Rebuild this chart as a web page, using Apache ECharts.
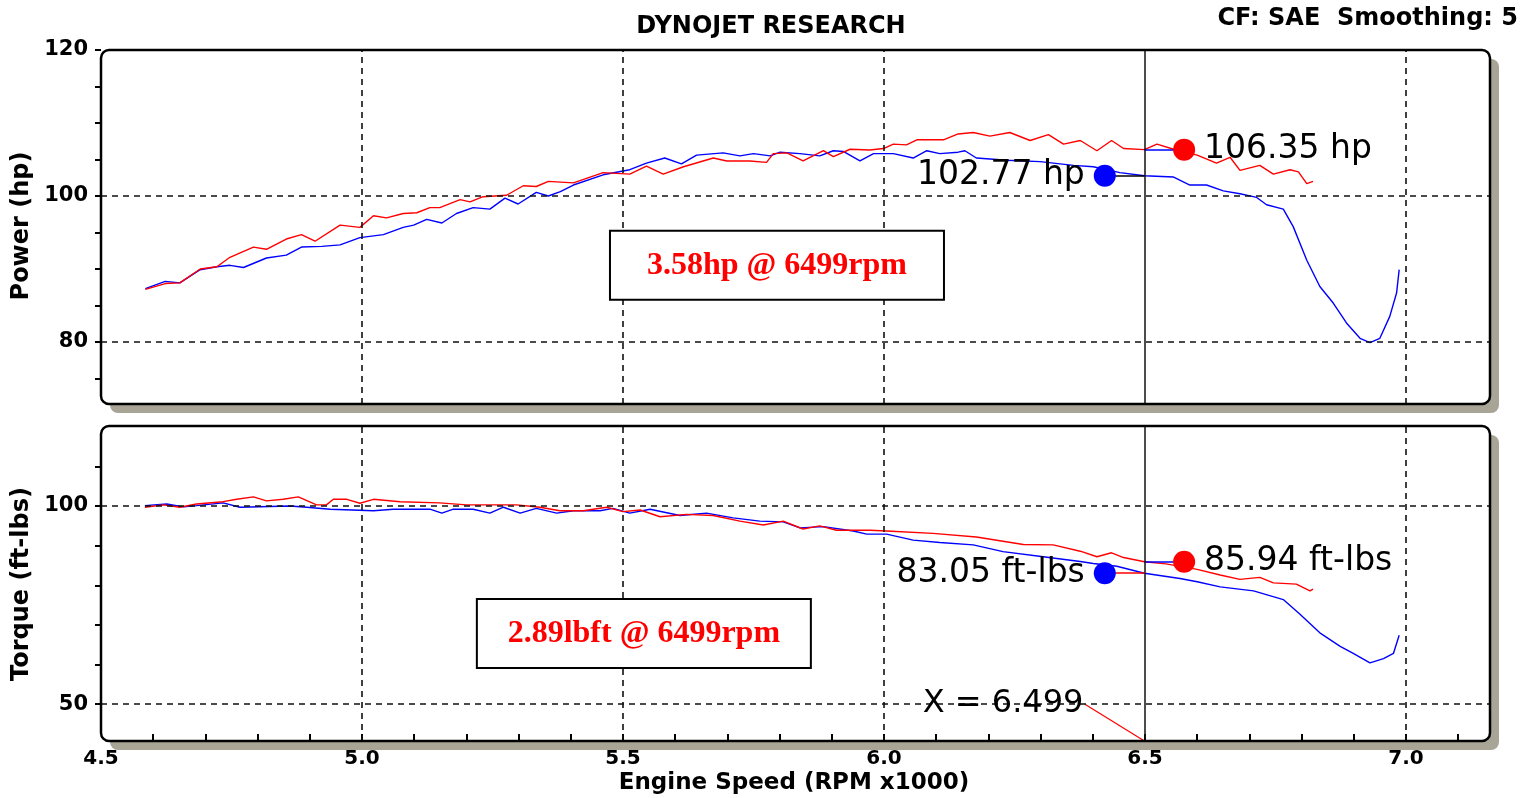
<!DOCTYPE html>
<html><head><meta charset="utf-8">
<script src="https://cdn.jsdelivr.net/npm/echarts@6/dist/echarts.min.js"></script>
<style>html,body{margin:0;padding:0;background:#fff}#c{width:1536px;height:798px}</style>
</head><body><div id="c"></div><script>
// ---------- data ----------
const xLabelVals = [4.5, 5.0, 5.5, 6.0, 6.5, 7.0];
const xTickVals = [4.6,4.7,4.8,4.9,5.0,5.1,5.2,5.3,5.4,5.5,5.6,5.7,5.8,5.9,6.0,6.1,6.2,6.3,6.4,6.5,6.6,6.7,6.8,6.9,7.0,7.1];
const xGridVals = [5.0, 5.5, 6.0, 7.0];
const pwrLabelVals = [80, 100, 120];
const pwrTickVals = [75, 80, 85, 90, 95, 100, 105, 110, 115, 120];
const pwrGridVals = [80, 100];
const trqLabelVals = [50, 100];
const trqTickVals = [50, 60, 70, 80, 90, 100, 110];
const trqGridVals = [50, 100];
const cursorRpm = 6.499;

// Run A (red) power
const pwrA_rpm = [4.585,4.623,4.651,4.690,4.722,4.747,4.792,4.817,4.855,4.884,4.910,4.958,4.996,5.022,5.047,5.079,5.105,5.130,5.149,5.188,5.207,5.232,5.277,5.309,5.334,5.357,5.405,5.462,5.513,5.545,5.577,5.616,5.673,5.699,5.743,5.775,5.788,5.814,5.845,5.884,5.903,5.935,5.973,5.999,6.018,6.043,6.063,6.114,6.142,6.171,6.203,6.241,6.280,6.315,6.344,6.376,6.408,6.436,6.459,6.499,6.523,6.555,6.600,6.637,6.663,6.682,6.720,6.746,6.778,6.794,6.810,6.822];
const pwrA_hp  = [87.2,88.0,88.1,90.0,90.3,91.6,93.0,92.7,94.1,94.7,93.8,96.0,95.7,97.3,97.0,97.6,97.7,98.4,98.4,99.5,99.2,99.9,100.1,101.4,101.3,102.0,101.8,103.2,103.0,104.1,103.0,104.0,105.2,104.8,104.8,104.6,105.8,105.9,104.8,106.2,105.4,106.4,106.3,106.5,107.1,107.0,107.7,107.7,108.5,108.7,108.2,108.7,107.6,108.4,107.1,107.6,106.2,107.6,106.5,106.35,107.1,106.4,105.6,104.5,105.3,103.5,104.2,103.0,103.6,103.3,101.7,102.0];
// Run B (blue) power
const pwrB_rpm = [4.585,4.623,4.651,4.690,4.722,4.747,4.773,4.817,4.855,4.884,4.923,4.958,4.996,5.041,5.079,5.099,5.124,5.153,5.181,5.213,5.245,5.274,5.299,5.334,5.357,5.380,5.405,5.462,5.513,5.545,5.580,5.612,5.641,5.692,5.724,5.750,5.782,5.801,5.839,5.877,5.903,5.922,5.954,5.980,6.018,6.056,6.082,6.107,6.142,6.155,6.177,6.235,6.299,6.363,6.401,6.452,6.499,6.555,6.586,6.618,6.650,6.682,6.714,6.733,6.765,6.784,6.810,6.835,6.861,6.886,6.912,6.931,6.950,6.969,6.982,6.987];
const pwrB_hp  = [87.3,88.3,88.1,89.9,90.3,90.5,90.2,91.5,91.9,93.0,93.1,93.3,94.3,94.7,95.7,96.0,96.8,96.3,97.6,98.4,98.2,99.7,98.9,100.5,100.0,100.6,101.5,102.9,103.6,104.5,105.2,104.4,105.6,105.9,105.5,105.8,105.5,106.0,105.8,105.5,106.2,106.1,104.8,105.8,105.8,105.2,106.2,105.8,106.0,106.2,105.2,104.9,104.7,104.2,104.0,103.2,102.77,102.6,101.5,101.5,100.7,100.3,99.8,98.8,98.2,95.8,91.2,87.6,85.3,82.6,80.5,79.9,80.5,83.5,86.7,89.9];
// Run A (red) torque
const trqA_rpm = [4.584,4.620,4.651,4.683,4.734,4.760,4.792,4.817,4.849,4.878,4.913,4.932,4.945,4.971,4.996,5.022,5.073,5.149,5.200,5.257,5.296,5.341,5.379,5.424,5.469,5.500,5.533,5.571,5.622,5.673,5.724,5.769,5.807,5.845,5.877,5.909,5.973,6.005,6.094,6.177,6.267,6.324,6.376,6.408,6.436,6.459,6.499,6.540,6.600,6.644,6.682,6.720,6.746,6.790,6.816,6.822];
const trqA_val = [99.7,100.3,99.7,100.5,101.1,101.7,102.3,101.3,101.7,102.3,100.3,100.3,101.7,101.7,100.7,101.7,101.1,100.8,100.3,100.3,100.3,99.7,98.8,98.8,99.7,98.6,99.0,97.3,97.9,97.6,96.2,95.2,96.2,94.2,95.0,93.9,93.9,93.7,93.1,92.2,90.3,90.2,88.6,87.2,88.2,87.0,85.94,85.4,84.0,82.6,81.5,82.0,80.6,80.3,78.6,79.0];
// Run B (blue) torque
const trqB_rpm = [4.584,4.626,4.658,4.683,4.734,4.766,4.862,4.894,4.939,5.022,5.060,5.130,5.153,5.175,5.213,5.245,5.271,5.303,5.334,5.373,5.405,5.456,5.481,5.513,5.552,5.609,5.660,5.711,5.762,5.807,5.839,5.884,5.941,5.967,6.005,6.056,6.107,6.171,6.228,6.305,6.376,6.401,6.446,6.499,6.567,6.600,6.644,6.708,6.765,6.797,6.835,6.874,6.899,6.931,6.957,6.976,6.987];
const trqB_val = [100.1,100.5,99.8,100.1,100.8,99.7,100.0,99.7,99.2,98.8,99.2,99.2,98.2,99.2,99.2,98.2,99.7,98.2,99.4,98.2,98.8,98.8,99.4,98.2,99.2,97.6,98.2,97.0,96.2,96.0,94.5,94.8,93.7,92.9,92.9,91.4,90.8,90.2,88.5,87.2,86.0,85.5,84.8,83.05,81.7,80.9,79.6,78.6,76.4,72.7,68.0,64.6,62.8,60.4,61.5,62.8,67.4];

// cursor readings and annotation anchors (data units)
const pwrAtCursor = {a: 106.35, b: 102.77};
const trqAtCursor = {a: 85.94, b: 83.05};
const dotRpmA = 6.575, dotRpmB = 6.423;
const pwrBoxAt = [5.795, 90.5];
const trqBoxAt = [5.540, 67.8];
const xLabelAnchor = [6.385, 50];
const pwrBoxText = '3.58hp @ 6499rpm';
const trqBoxText = '2.89lbft @ 6499rpm';

// ---------- layout ----------
const X_MIN = 4.5, X_MAX = 7.161;
const P_MIN = 71.5, P_MAX = 120;
const T_MIN = 40.7, T_MAX = 120.2;
const G0 = {left: 101, top: 50, width: 1389, height: 354};
const G1 = {left: 101, top: 426, width: 1389, height: 315};
const RED = '#ff0000', BLUE = '#0000ff';
const FONT = 'DejaVu Sans';

function pairs(xs, ys) { return xs.map((x, i) => [x, ys[i]]); }

const gridLineStyle = {color: '#111', type: [6, 5], width: 1.6};
function gridMarkLines(yVals) {
  return [
    ...yVals.map(v => ({yAxis: v, lineStyle: gridLineStyle})),
    ...xGridVals.map(v => ({xAxis: v, lineStyle: gridLineStyle})),
    {xAxis: cursorRpm, lineStyle: {color: '#111', type: 'solid', width: 1.5}}
  ];
}
function leader(x1, x2, y, color) {
  const ls = {color: color, type: 'solid', width: 1.5};
  return [{coord: [x1, y], lineStyle: ls}, {coord: [x2, y], lineStyle: ls}];
}
function dot(x, y, color, text, pos) {
  return {
    coord: [x, y], symbol: 'circle', symbolSize: 22,
    itemStyle: {color: color},
    label: {show: true, position: pos, distance: 9, formatter: text,
      color: '#000', fontSize: 33, fontFamily: FONT, fontWeight: 'normal'}
  };
}
function box(at, text) {
  return {
    coord: at, symbol: 'circle', symbolSize: 1,
    itemStyle: {color: 'rgba(0,0,0,0)'},
    label: {show: true, position: 'inside', formatter: text, color: RED,
      fontSize: 32, fontWeight: 'bold', fontFamily: 'Liberation Serif',
      width: 332, height: 67, lineHeight: 67, align: 'center', verticalAlign: 'middle',
      padding: 0, backgroundColor: '#fff', borderColor: '#000', borderWidth: 2}
  };
}

const axisLabelBase = {color: '#000', fontWeight: 'bold', fontFamily: FONT};

function frame(g) {
  return [
    {type: 'rect', z: -3, silent: true,
      shape: {x: g.left + 9, y: g.top + 9, width: g.width, height: g.height, r: 8},
      style: {fill: '#a8a596'}},
    {type: 'rect', z: -2, silent: true,
      shape: {x: g.left, y: g.top, width: g.width, height: g.height, r: 8},
      style: {fill: '#fff'}},
    {type: 'rect', z: 50, silent: true,
      shape: {x: g.left, y: g.top, width: g.width, height: g.height, r: 8},
      style: {fill: 'none', stroke: '#000', lineWidth: 2.5}}
  ];
}
function txt(x, y, text, size, opts) {
  return Object.assign({type: 'text', x: x, y: y, z: 60, silent: true,
    style: Object.assign({text: text, font: 'bold ' + size + 'px "' + FONT + '"', fill: '#000',
      textAlign: 'center', textVerticalAlign: 'middle'}, (opts && opts.style) || {})},
    (opts && opts.el) || {});
}

const option = {
  animation: false,
  backgroundColor: '#fff',
  grid: [
    {left: G0.left, top: G0.top, width: G0.width, height: G0.height, containLabel: false},
    {left: G1.left, top: G1.top, width: G1.width, height: G1.height, containLabel: false}
  ],
  xAxis: [
    {gridIndex: 0, type: 'value', min: X_MIN, max: X_MAX,
      axisLine: {show: false}, axisTick: {show: false}, axisLabel: {show: false}, splitLine: {show: false}},
    {gridIndex: 1, type: 'value', min: X_MIN, max: X_MAX,
      axisLine: {show: false},
      axisTick: {show: true, inside: true, length: 7, lineStyle: {color: '#000', width: 2}, customValues: xTickVals},
      axisLabel: Object.assign({customValues: xLabelVals, formatter: v => v.toFixed(1), fontSize: 20, margin: 8}, axisLabelBase),
      splitLine: {show: false}}
  ],
  yAxis: [
    {gridIndex: 0, type: 'value', min: P_MIN, max: P_MAX,
      axisLine: {show: false},
      axisTick: {show: true, length: 6, lineStyle: {color: '#000', width: 2}, customValues: pwrTickVals},
      axisLabel: Object.assign({customValues: pwrLabelVals, fontSize: 21, margin: 13}, axisLabelBase),
      splitLine: {show: false}},
    {gridIndex: 1, type: 'value', min: T_MIN, max: T_MAX,
      axisLine: {show: false},
      axisTick: {show: true, length: 6, lineStyle: {color: '#000', width: 2}, customValues: trqTickVals},
      axisLabel: Object.assign({customValues: trqLabelVals, fontSize: 21, margin: 13}, axisLabelBase),
      splitLine: {show: false}}
  ],
  series: [
    {type: 'line', xAxisIndex: 0, yAxisIndex: 0, data: pairs(pwrA_rpm, pwrA_hp), symbol: 'none',
      lineStyle: {color: RED, width: 1.4}, itemStyle: {color: RED}, silent: true, z: 3,
      markLine: {silent: true, symbol: ['none', 'none'], label: {show: false},
        data: [leader(cursorRpm, dotRpmA, pwrAtCursor.a, BLUE)]},
      markPoint: {silent: true, data: [dot(dotRpmA, pwrAtCursor.a, RED, pwrAtCursor.a.toFixed(2) + ' hp', 'right')]}},
    {type: 'line', xAxisIndex: 0, yAxisIndex: 0, data: pairs(pwrB_rpm, pwrB_hp), symbol: 'none',
      lineStyle: {color: BLUE, width: 1.4}, itemStyle: {color: BLUE}, silent: true, z: 2,
      markLine: {silent: true, symbol: ['none', 'none'], label: {show: false},
        data: [...gridMarkLines(pwrGridVals), leader(dotRpmB, cursorRpm, pwrAtCursor.b, '#000')]},
      markPoint: {silent: true, data: [
        box(pwrBoxAt, pwrBoxText),
        dot(dotRpmB, pwrAtCursor.b, BLUE, pwrAtCursor.b.toFixed(2) + ' hp', 'left')]}},
    {type: 'line', xAxisIndex: 1, yAxisIndex: 1, data: pairs(trqA_rpm, trqA_val), symbol: 'none',
      lineStyle: {color: RED, width: 1.4}, itemStyle: {color: RED}, silent: true, z: 3,
      markLine: {silent: true, symbol: ['none', 'none'], label: {show: false},
        data: [leader(cursorRpm, dotRpmA, trqAtCursor.a, BLUE),
          [{coord: xLabelAnchor, lineStyle: {color: RED, width: 1.2, type: 'solid'}},
           {coord: [cursorRpm, T_MIN], lineStyle: {color: RED, width: 1.2, type: 'solid'}}]]},
      markPoint: {silent: true, data: [dot(dotRpmA, trqAtCursor.a, RED, trqAtCursor.a.toFixed(2) + ' ft-lbs', 'right')]}},
    {type: 'line', xAxisIndex: 1, yAxisIndex: 1, data: pairs(trqB_rpm, trqB_val), symbol: 'none',
      lineStyle: {color: BLUE, width: 1.4}, itemStyle: {color: BLUE}, silent: true, z: 2,
      markLine: {silent: true, symbol: ['none', 'none'], label: {show: false},
        data: [...gridMarkLines(trqGridVals), leader(dotRpmB, cursorRpm, trqAtCursor.b, RED)]},
      markPoint: {silent: true, data: [
        box(trqBoxAt, trqBoxText),
        dot(dotRpmB, trqAtCursor.b, BLUE, trqAtCursor.b.toFixed(2) + ' ft-lbs', 'left'),
        {coord: xLabelAnchor, symbol: 'circle', symbolSize: 1, itemStyle: {color: 'rgba(0,0,0,0)'},
          label: {show: true, position: 'left', distance: 1, formatter: 'X = ' + cursorRpm.toFixed(3),
            color: '#000', fontSize: 32, fontFamily: FONT}}]}}
  ],
  graphic: [
    ...frame(G0), ...frame(G1),
    txt(771, 27, 'DYNOJET RESEARCH', 24),
    txt(1518, 19, 'CF: SAE  Smoothing: 5', 24, {style: {textAlign: 'right'}}),
    txt(794, 783, 'Engine Speed (RPM x1000)', 23),
    txt(22, 226, 'Power (hp)', 24, {el: {rotation: Math.PI / 2}}),
    txt(22, 584, 'Torque (ft-lbs)', 24, {el: {rotation: Math.PI / 2}})
  ]
};

const chart = echarts.init(document.getElementById('c'), null, {renderer: 'canvas'});
chart.setOption(option);
</script></body></html>
